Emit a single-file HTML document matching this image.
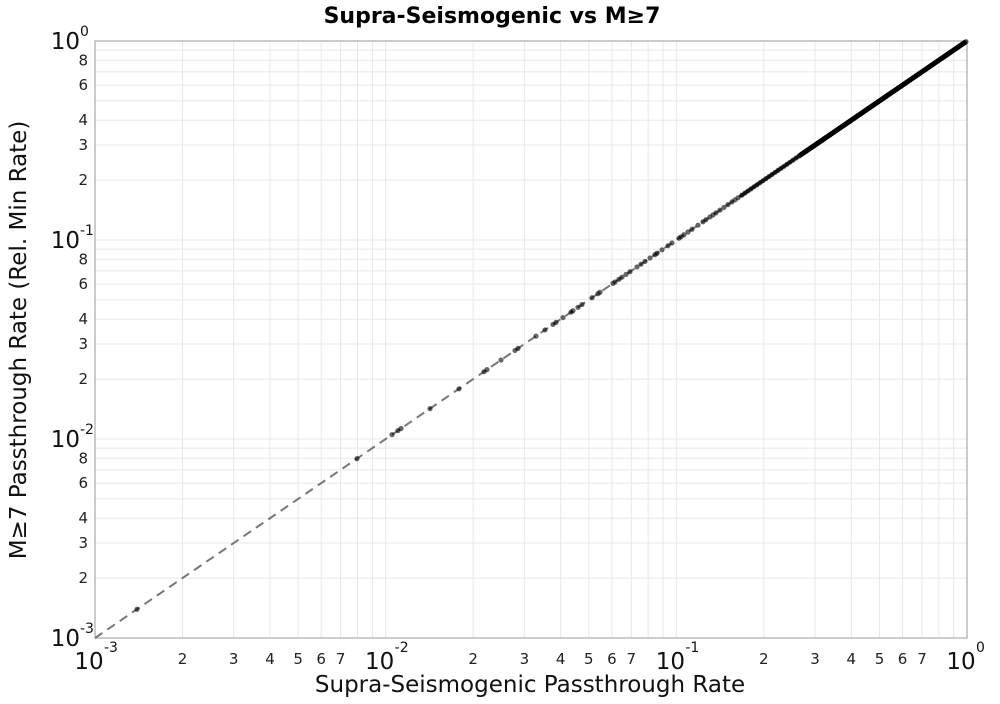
<!DOCTYPE html>
<html><head><meta charset="utf-8"><style>
body{margin:0;background:#fff;width:1000px;height:700px;overflow:hidden;font-family:"DejaVu Sans","Liberation Sans",sans-serif}
</style></head><body>
<svg id="s" width="1000" height="700" xmlns="http://www.w3.org/2000/svg" font-family="DejaVu Sans, Liberation Sans, sans-serif">
<text x="492" y="23" font-size="22" font-weight="bold" text-anchor="middle">Supra-Seismogenic vs M≥7</text>
<text x="530" y="692" font-size="23" text-anchor="middle" fill="#111">Supra-Seismogenic Passthrough Rate</text>
<text transform="translate(26,340) rotate(-90)" font-size="23" text-anchor="middle" fill="#111">M≥7 Passthrough Rate (Rel. Min Rate)</text>
</svg>
<script>
var s=document.getElementById('s'),NS='http://www.w3.org/2000/svg';
var L=95,R=967,T=41,B=638,dx=(R-L)/3,dy=(B-T)/3;
function el(t,a,txt){var e=document.createElementNS(NS,t);for(var k in a)e.setAttribute(k,a[k]);if(txt!=null)e.textContent=txt;s.appendChild(e);return e;}
function X(v){return L+(Math.log10(v)+3)*dx}
function Y(v){return B-(Math.log10(v)+3)*dy}
for(var d=-3;d<0;d++)for(var m=1;m<10;m++){var v=m*Math.pow(10,d);
 var x=X(v),y=Y(v);
 el('line',{x1:x,y1:T,x2:x,y2:B,stroke:'#e8e8e8','stroke-width':1});
 el('line',{x1:L,y1:y,x2:R,y2:y,stroke:'#e8e8e8','stroke-width':1});
 if(m>1&&m<8)el('text',{x:x,y:664,'font-size':15,'text-anchor':'middle',fill:'#222'},m);
 if(m==2||m==3||m==4||m==6||m==8)el('text',{x:88,y:y+5,'font-size':15,'text-anchor':'end',fill:'#222'},m);
}
el('rect',{x:L,y:T,width:R-L,height:B-T,fill:'none',stroke:'#aaa','stroke-width':1.2});
for(var d=-3;d<=0;d++){var x=X(Math.pow(10,d)),y=Y(Math.pow(10,d));
 el('text',{x:x-6,y:669,'font-size':23,'text-anchor':'middle',fill:'#111'},'10');
 el('text',{x:x+9,y:652,'font-size':14,fill:'#111'},d==0?'0':d);
 el('text',{x:80,y:y+8,'font-size':23,'text-anchor':'end',fill:'#111'},'10');
 el('text',{x:80,y:y-5,'font-size':14,fill:'#111'},d==0?'0':d);
}
el('line',{x1:L,y1:B,x2:R,y2:T,stroke:'#777','stroke-width':2,'stroke-dasharray':'9,6'});
var px=[137,357,392,398,401,430,459,484,487,501,515,518,536,545,553,556,563,571,573,578,582,592,598,600,613,615,619,622,626,630,637,641,645,650,655,657,662,668,672,679,681,684,688,692,698,703,706,710,713,716,720,724,728,732,735,738,742,745,748,751,754,757,760,763,766,769,772,775,778,781,784,787,790,793,796,799];
for(var x=800;x<967;x+=2)px.push(x);
var k=(B-T)/(R-L);
px.forEach(function(x){el('circle',{cx:x,cy:B-(x-L)*k,r:2.6,fill:'rgba(0,0,0,0.6)'});});
el('line',{x1:800,y1:B-(800-L)*k,x2:966,y2:B-(966-L)*k,stroke:'#000','stroke-width':5});
el('line',{x1:740,y1:B-(740-L)*k,x2:800,y2:B-(800-L)*k,stroke:'#111','stroke-width':3.5});
</script>
</body></html>
